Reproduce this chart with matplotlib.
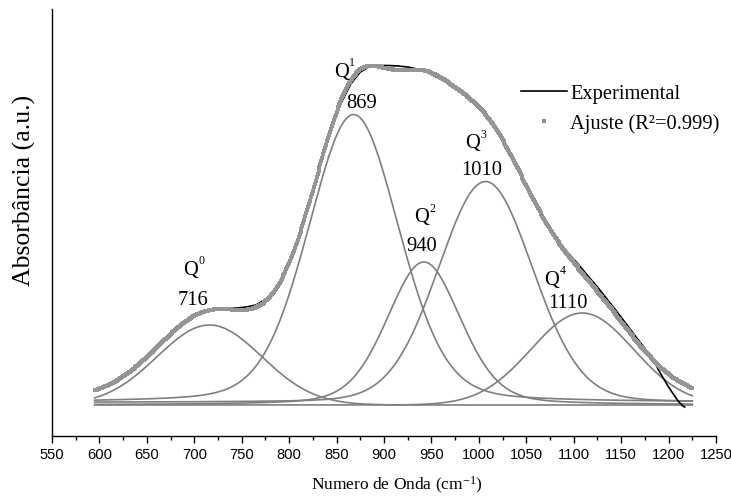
import numpy as np
import matplotlib
matplotlib.use("Agg")
import matplotlib.pyplot as plt
from matplotlib.lines import Line2D

plt.rcParams['font.family'] = ['Liberation Serif', 'DejaVu Serif']
plt.rcParams['mathtext.fontset'] = 'custom'
plt.rcParams['mathtext.rm'] = 'Liberation Serif'
plt.rcParams['mathtext.it'] = 'Liberation Serif:italic'

# Experimental spectrum (absorbance, a.u.)
exp_wn = [595, 605, 615, 625, 635, 645, 655, 665, 675, 685, 695, 705, 715,
          725, 735, 745, 755, 765, 775, 785, 795, 805, 815, 825, 835, 845,
          855, 865, 875, 885, 895, 905, 915, 925, 935, 945, 955, 965, 975,
          985, 995, 1005, 1015, 1025, 1035, 1045, 1055, 1065, 1075, 1085,
          1095, 1105, 1115, 1125, 1135, 1145, 1155, 1165, 1175, 1185, 1190,
          1195, 1200, 1205, 1210, 1215, 1217]
exp_abs = [0.465, 0.500, 0.540, 0.600, 0.670, 0.750, 0.835, 0.925, 1.015,
           1.100, 1.170, 1.220, 1.255, 1.270, 1.275, 1.280, 1.290, 1.310,
           1.365, 1.460, 1.630, 1.850, 2.125, 2.445, 2.780, 3.085, 3.335,
           3.520, 3.640, 3.695, 3.705, 3.705, 3.700, 3.690, 3.670, 3.640,
           3.590, 3.540, 3.480, 3.410, 3.320, 3.225, 3.100, 2.950, 2.780,
           2.595, 2.410, 2.225, 2.070, 1.940, 1.820, 1.715, 1.600, 1.490,
           1.370, 1.250, 1.125, 1.000, 0.875, 0.740, 0.650, 0.570, 0.490,
           0.420, 0.350, 0.300, 0.290]

# Fitted components (pseudo-Voigt): centre (cm-1), height, sigma (cm-1), Lorentz fraction
peak_names = ["Q", "Q", "Q", "Q", "Q"]
peak_sup = ["0", "1", "2", "3", "4"]
peak_labels = ["716", "869", "940", "1010", "1110"]
peak_centers = [716, 868, 942, 1007, 1109]
peak_heights = [0.80, 2.88, 1.43, 2.21, 0.92]
peak_sigmas = [55, 48, 39, 50, 54]
peak_eta = [0.0, 0.20, 0.25, 0.10, 0.0]
comp_baselines = [0.31, 0.335, 0.31, 0.335, 0.31]
fit_baseline = 0.35
fit_range = (595, 1225)

wn = np.arange(fit_range[0], fit_range[1] + 1, 1.0)


def pvoigt(x, c, h, s, eta):
    hw = s * np.sqrt(2 * np.log(2))
    g = np.exp(-(x - c) ** 2 / (2 * s ** 2))
    l = 1.0 / (1.0 + ((x - c) / hw) ** 2)
    return h * ((1 - eta) * g + eta * l)


shapes = [pvoigt(wn, c, h, s, e)
          for c, h, s, e in zip(peak_centers, peak_heights, peak_sigmas, peak_eta)]
fit = fit_baseline + sum(shapes)

fig = plt.figure(figsize=(7.31, 5.02), dpi=100)
ax = fig.add_axes([52/731, 65/502, (716-52)/731, (437-10)/502])

for shp, b in zip(shapes, comp_baselines):
    ax.plot(wn, b + shp, color='#7f7f7f', lw=1.2)
ax.plot(exp_wn, exp_abs, color='black', lw=1.2)
ax.plot(wn, fit, 's', color='#959595', ms=2.5, mew=0)

ax.set_xlim(550, 1250)
ax.set_ylim(0, 4.27)
ax.set_xticks(np.arange(550, 1251, 50))
ax.set_xticks(np.arange(575, 1250, 50), minor=True)
ax.set_yticks([])
for s in ['top', 'right']:
    ax.spines[s].set_visible(False)
for s in ['left', 'bottom']:
    ax.spines[s].set_linewidth(1.0)
ax.tick_params(axis='x', which='major', direction='out', length=5, width=1.0,
               labelsize=10.6, pad=3)
ax.tick_params(axis='x', which='minor', direction='out', length=3, width=1.0)
for t in ax.get_xticklabels():
    t.set_fontfamily('Liberation Sans')


def px2data(px, py):
    return 550 + (px - 52) / 0.949, (437 - py) / 100.0


name_pos = [(183, 275), (334, 77), (414, 222), (465, 148), (544, 285)]
num_pos = [(193, 305), (362, 108), (422, 251), (482, 175), (568, 308)]
for name, sup, lab, npos, lpos in zip(peak_names, peak_sup, peak_labels,
                                      name_pos, num_pos):
    x, y = px2data(*npos)
    ax.text(x, y, name, ha='left', va='baseline', fontsize=14.8)
    x, y = px2data(npos[0] + 18.5, npos[1] - 10.5)
    ax.text(x, y, sup, ha='center', va='baseline', fontsize=8.5)
    x, y = px2data(*lpos)
    ax.text(x, y, lab, ha='center', va='baseline', fontsize=14.8)

handles = [Line2D([], [], color='black', lw=1.2),
           Line2D([], [], ls='none', marker='s', color='#8c8c8c', ms=2.6, mew=0)]
ax.legend(handles, ["Experimental", "Ajuste (R\u00b2=0.999)"],
          loc='upper left', bbox_to_anchor=(521/731, 1 - 85/502),
          bbox_transform=fig.transFigure, frameon=False, fontsize=14.8,
          handlelength=2.25, handletextpad=0.15, borderpad=0, borderaxespad=0,
          labelspacing=0.5)

fig.text(397/731, 1 - 490/502, "Numero de Onda (cm$^{-1}$)", ha='center',
         va='baseline', fontsize=12.5)
fig.text(24/731, 1 - 190/502, "Absorbância (a.u.)", ha='center', va='center',
         rotation=90, fontsize=18.5)

fig.savefig("out.png", dpi=100)
